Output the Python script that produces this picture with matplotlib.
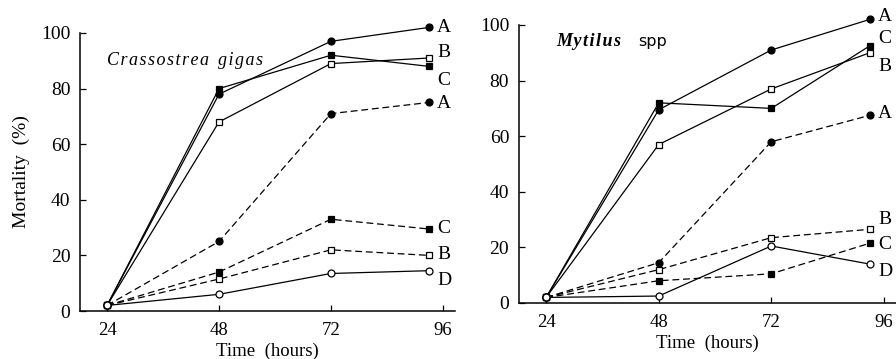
import matplotlib
matplotlib.use("Agg")
import matplotlib.pyplot as plt

hours = [24, 48, 72, 93]
xticks = [24, 48, 72, 96]
yticks = [0, 20, 40, 60, 80, 100]

# Crassostrea gigas
cg_A_solid = [2, 78, 97, 102]
cg_B_solid = [2, 68, 89, 91]
cg_C_solid = [2, 80, 92, 88]
cg_A_dash = [2, 25, 71, 75]
cg_C_dash = [2, 14, 33, 29.5]
cg_B_dash = [2, 11.5, 22, 20]
cg_D_solid = [2, 6, 13.5, 14.5]

# Mytilus spp
my_A_solid = [2, 69.5, 91, 102]
my_C_solid = [2, 72, 70, 92.5]
my_B_solid = [2, 57, 77, 90]
my_A_dash = [2, 14.5, 58, 67.5]
my_B_dash = [2, 12, 23.5, 26.5]
my_C_dash = [2, 8, 10.5, 21.5]
my_D_solid = [2, 2.5, 20.5, 14]

SERIF = ["Liberation Serif", "DejaVu Serif"]
plt.rcParams["font.family"] = SERIF

fig = plt.figure(figsize=(8.96, 3.59), dpi=100)
ax1 = fig.add_axes([0.0893, 0.1337, 0.4185, 0.7744])
ax2 = fig.add_axes([0.5792, 0.156, 0.4208, 0.7744])

marker_style = {
    "A": dict(marker="o", mfc="black", ms=5),
    "B": dict(marker="s", mfc="white", ms=4.2),
    "C": dict(marker="s", mfc="black", ms=4.2),
    "D": dict(marker="o", mfc="white", ms=5),
}
dash = (0, (5.5, 3))


def draw(ax, series, xlabelpad):
    for name, vals, ls, lab_dy in series:
        st = marker_style[name]
        ax.plot(hours, vals, color="black", lw=0.9,
                linestyle=ls, marker=st["marker"], mfc=st["mfc"],
                mec="black", mew=0.9, ms=st["ms"], clip_on=False, zorder=3)
        ax.annotate(name, (hours[-1], vals[-1]), xytext=(6, lab_dy),
                    textcoords="offset points", ha="left", va="center",
                    fontsize=14, annotation_clip=False)
    ax.set_xlim(18.2, 98.6)
    ax.set_ylim(0, 100)
    ax.set_xticks(xticks)
    ax.set_yticks(yticks)
    ax.tick_params(direction="in", length=4, width=0.9, labelsize=14, pad=7)
    ax.tick_params(axis="x", pad=8, labelsize=13.5)
    for s in ["top", "right"]:
        ax.spines[s].set_visible(False)
    for s in ["left", "bottom"]:
        ax.spines[s].set_linewidth(1.1)
    ax.set_xlabel("Time  (hours)", fontsize=13.5, labelpad=xlabelpad)


draw(ax1, [
    ("A", cg_A_solid, "-", 0),
    ("B", cg_B_solid, "-", 4),
    ("C", cg_C_solid, "-", -10),
    ("A", cg_A_dash, dash, -1),
    ("C", cg_C_dash, dash, 0),
    ("B", cg_B_dash, dash, 1),
    ("D", cg_D_solid, "-", -7),
], 2.5)
draw(ax2, [
    ("A", my_A_solid, "-", 2),
    ("C", my_C_solid, "-", 5),
    ("B", my_B_solid, "-", -10),
    ("A", my_A_dash, dash, 1),
    ("B", my_B_dash, dash, 7),
    ("C", my_C_dash, dash, -1),
    ("D", my_D_solid, "-", -5),
], 2.5)

hs = "\u200a"
ax1.text(0.072, 0.9, hs.join("Crassostrea") + "  " + hs.join("gigas"),
         transform=ax1.transAxes, fontsize=13, style="italic",
         ha="left", va="center")
ax2.text(0.1, 0.94, hs.join("Mytilus"), transform=ax2.transAxes,
         fontsize=13, style="italic", weight="bold", ha="left", va="center")
ax2.text(0.315, 0.94, "spp", transform=ax2.transAxes,
         fontsize=11.5, ha="left", va="center", family=["DejaVu Sans"])

ax1.set_ylabel("Mortality  (%)", fontsize=14, labelpad=8)

fig.savefig("out.png", dpi=100)
